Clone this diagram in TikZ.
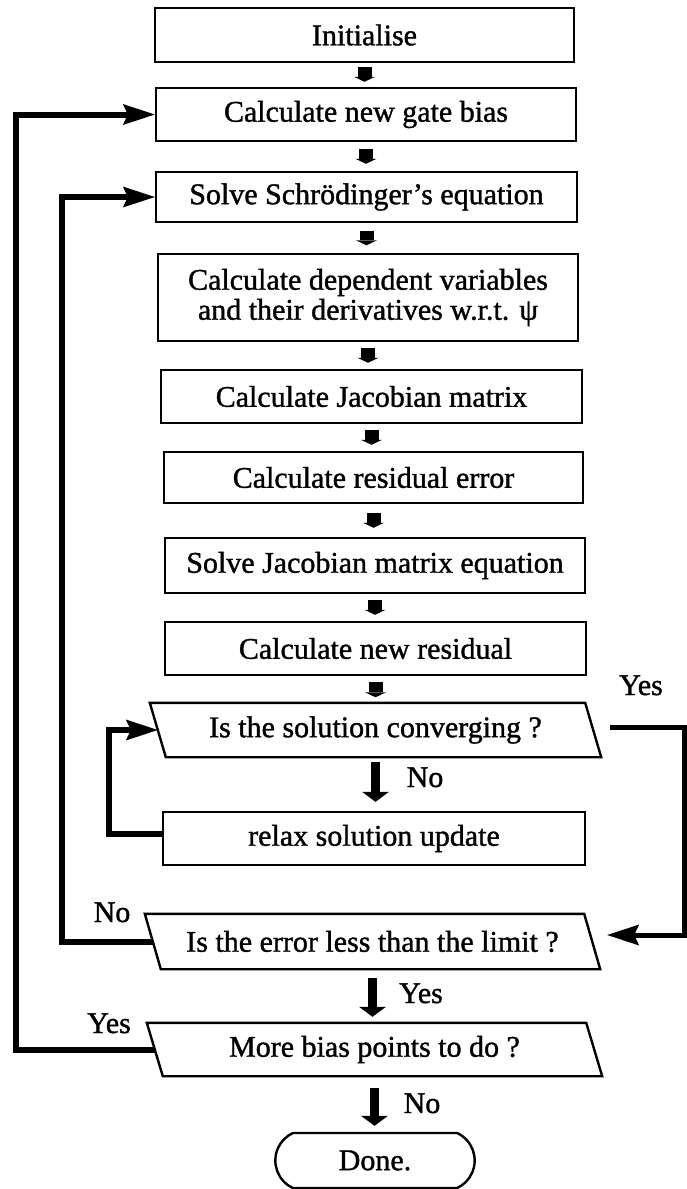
\documentclass[tikz,border=0pt]{standalone}
\usepackage{fontspec}
\setmainfont{Liberation Serif}[FakeBold=1.2]
\usetikzlibrary{arrows.meta,shapes.misc,calc}
\begin{document}
\begin{tikzpicture}[x=1pt,y=1pt,
  every node/.style={font=\fontsize{30}{30}\selectfont},
  box/.style={draw, line width=2.4pt, rectangle, inner sep=2pt, align=center},
  para/.style={rectangle, inner sep=2pt},
  outline/.style={line width=2.4pt, line join=miter},
  sarrow/.style={line width=14pt, -{Triangle[length=5pt,width=21pt,line width=0pt]}},
  barrow/.style={line width=9pt, -{Triangle[length=10pt,width=27pt,line width=0pt]}},
  fb/.style={line width=6pt, line join=miter, -{Stealth[length=32pt,width=21pt,inset=5pt,line width=0pt]}},
  lbl/.style={anchor=base, inner sep=0pt}
]
\useasboundingbox (0,0) rectangle (687,-1189);

% process boxes
\node[box, minimum width=419pt, minimum height=54pt] (init) at (364.5,-35) {Initialise};
\node[box, minimum width=420pt, minimum height=53pt] (gate) at (366,-114.5) {Calculate new gate bias};
\node[box, minimum width=421pt, minimum height=50pt] (schro) at (366.5,-197) {Solve Schrödinger’s equation};
\node[box, minimum width=420pt, minimum height=87pt] (dep) at (368,-297.5) {Calculate dependent variables\\and their derivatives w.r.t. ψ};
\node[box, minimum width=421pt, minimum height=53pt] (jac) at (371.5,-396.5) {Calculate Jacobian matrix};
\node[box, minimum width=419pt, minimum height=51pt] (reserr) at (373.5,-477.5) {Calculate residual error};
\node[box, minimum width=420pt, minimum height=55pt] (solvejac) at (375,-565.5) {Solve Jacobian matrix equation};
\node[box, minimum width=421pt, minimum height=53pt] (newres) at (375.5,-648.5) {Calculate new residual};

% decision (parallelogram) nodes
\node[para, minimum width=435pt, minimum height=54pt] (conv) at (375.5,-730) {Is the solution converging ?};
\draw[outline] ([xshift=-8pt]conv.north west) -- ([xshift=-8pt]conv.north east) -- ([xshift=8pt]conv.south east) -- ([xshift=8pt]conv.south west) -- cycle;

\node[box, minimum width=422pt, minimum height=53pt] (relax) at (374,-838.5) {relax solution update};

\node[para, minimum width=439pt, minimum height=55pt] (error) at (372.5,-941.5) {Is the error less than the limit ?};
\draw[outline] ([xshift=-8pt]error.north west) -- ([xshift=-8pt]error.north east) -- ([xshift=8pt]error.south east) -- ([xshift=8pt]error.south west) -- cycle;

\node[para, minimum width=439pt, minimum height=53pt] (more) at (374.5,-1049.5) {More bias points to do ?};
\draw[outline] ([xshift=-8pt]more.north west) -- ([xshift=-8pt]more.north east) -- ([xshift=8pt]more.south east) -- ([xshift=8pt]more.south west) -- cycle;

\node[draw, line width=2.4pt, rounded rectangle, rounded rectangle arc length=130, minimum width=206pt, minimum height=55pt] (done) at (375,-1160.5) {Done.};

% small block arrows
\draw[sarrow, shorten <=4pt, shorten >=5pt] (init.south) -- (init.south |- gate.north);
\draw[sarrow, shorten <=7pt, shorten >=7pt] (gate.south) -- (gate.south |- schro.north);
\draw[sarrow, shorten <=7.5pt, shorten >=7.5pt] (schro.south) -- (schro.south |- dep.north);
\draw[sarrow, shorten <=6pt, shorten >=6pt] (dep.south) -- (dep.south |- jac.north);
\draw[sarrow, shorten <=6pt, shorten >=6pt] (jac.south) -- (jac.south |- reserr.north);
\draw[sarrow, shorten <=9pt, shorten >=9pt] (reserr.south) -- (reserr.south |- solvejac.north);
\draw[sarrow, shorten <=6pt, shorten >=6pt] (solvejac.south) -- (solvejac.south |- newres.north);
\draw[sarrow, shorten <=5.5pt, shorten >=5.5pt] (newres.south) -- (newres.south |- conv.north);

% big block arrows
\draw[barrow, shorten <=5pt, shorten >=9pt] (conv.south) -- (conv.south |- relax.north);
\draw[barrow, shorten <=9pt, shorten >=6pt] (error.south) -- (error.south |- more.north);
\draw[barrow, shorten <=12pt, shorten >=6pt] (more.south) -- (more.south |- done.north);

% feedback lines
\coordinate (xa) at (16,0);
\coordinate (xb) at (62,0);
\coordinate (xc) at (109,0);
\coordinate (xr) at (684,0);
\draw[fb] (more.west) -| (xa |- gate.west) -- (gate.west);
\draw[fb] (error.west) -| (xb |- schro.west) -- (schro.west);
\draw[fb] ([yshift=5pt]relax.west) -| (xc |- conv.west) -- (conv.west);
\draw[fb, line width=5pt, shorten <=17pt, shorten >=15pt] ([yshift=3pt]conv.east) -| ($(xr |- error.east)+(0,6.5)$) -- ([yshift=6.5pt]error.east);

% labels
\node[lbl] (yes1) at (641,-695) {Yes};
\node[lbl] (no1) at (425,-787) {No};
\node[lbl] (no2) at (112,-922) {No};
\node[lbl] (yes2) at (421,-1003) {Yes};
\node[lbl] (yes3) at (109,-1033) {Yes};
\node[lbl] (no3) at (422,-1113) {No};
\end{tikzpicture}
\end{document}
